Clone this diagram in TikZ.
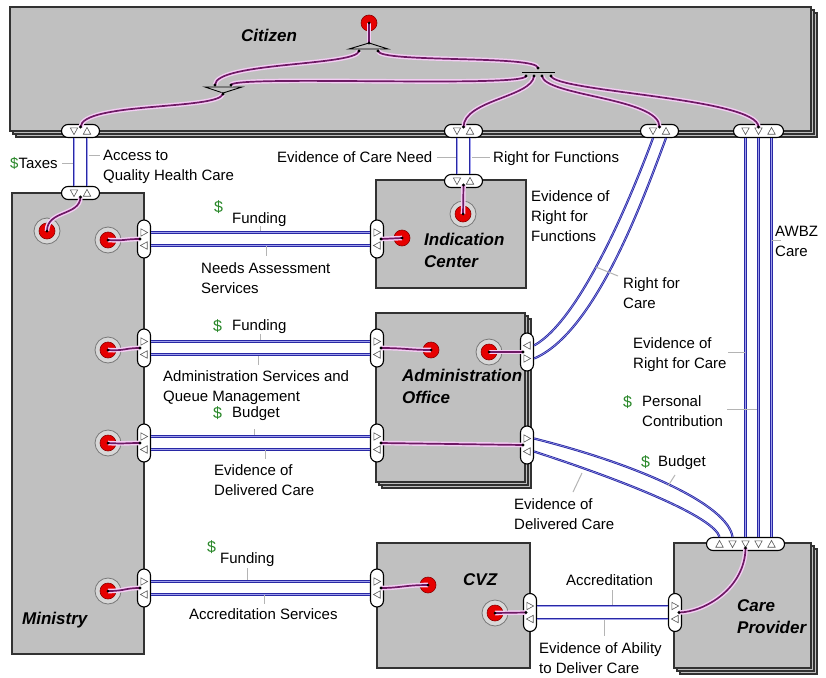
\documentclass[tikz,border=0pt]{standalone}
\usepackage{fontspec}
\setmainfont{Liberation Sans}
\definecolor{boxgray}{RGB}{192,192,192}
\definecolor{boxedge}{RGB}{50,50,50}
\definecolor{halo}{RGB}{245,205,245}
\definecolor{vline}{RGB}{110,25,100}
\definecolor{bline}{RGB}{40,40,165}
\definecolor{blight}{RGB}{160,160,235}
\definecolor{leader}{RGB}{180,180,180}
\definecolor{dollar}{RGB}{40,135,40}
\definecolor{dotred}{RGB}{230,0,0}
\definecolor{dotedge}{RGB}{140,0,0}
\definecolor{ringfill}{RGB}{215,215,215}
\definecolor{ringedge}{RGB}{120,120,120}
\tikzset{
 actor/.style={fill=boxgray, draw=boxedge, line width=1.6pt},
 hport/.style={shape=rectangle, draw=black, fill=white, rounded corners=6.5pt, minimum height=13pt, minimum width=38pt, line width=1.1pt, inner sep=0pt},
 vport/.style={shape=rectangle, draw=black, fill=white, rounded corners=6.5pt, minimum height=38pt, minimum width=13pt, line width=1.1pt, inner sep=0pt},
 reddot/.style={circle, fill=dotred, draw=dotedge, line width=0.6pt, minimum size=16pt, inner sep=0pt},
 ring/.style={circle, fill=ringfill, draw=ringedge, line width=0.8pt, minimum size=26pt, inner sep=0pt},
 pl/.style={draw=vline, line width=1.7pt, preaction={draw=halo, line width=4.6pt}},
 bl/.style={draw=bline, line width=2.2pt, postaction={draw=blight, line width=0.5pt}},
 ld/.style={draw=leader, line width=1pt},
 lbl/.style={anchor=north west, inner sep=0pt, align=left, font=\fontsize{15}{20}\selectfont},
 ttl/.style={anchor=north west, inner sep=0pt, align=left, font=\fontsize{17}{22}\selectfont\bfseries\itshape},
 usd/.style={anchor=base west, inner sep=0pt, text=dollar, font=\fontsize{16}{20}\selectfont},
 fork/.style={fill=boxgray, draw=black, line width=0.9pt},
 tri/.pic={\draw[draw=black!65, fill=white, line width=0.6pt] (3.6,0) -- (-3.2,3.7) -- (-3.2,-3.7) -- cycle;},
}
\newcommand\trD[2]{\pic[rotate=-90] at (#1,#2) {tri};}
\newcommand\trU[2]{\pic[rotate=90] at (#1,#2) {tri};}
\newcommand\trR[2]{\pic at (#1,#2) {tri};}
\newcommand\trL[2]{\pic[rotate=180] at (#1,#2) {tri};}
\begin{document}
\begin{tikzpicture}[x=1pt,y=-1pt]
\fill[white] (0,0) rectangle (826,677);
\useasboundingbox (0,0) rectangle (826,677);

% ---------- actors ----------
\draw[actor] (16,13) rectangle (817,137);
\draw[actor] (13,10) rectangle (814,134);
\draw[actor] (10,7) rectangle (811,131);
\draw[actor] (12,193) rectangle (144,654);
\draw[actor] (376,180) rectangle (526,288);
\draw[actor] (382,319) rectangle (531,488);
\draw[actor] (379,316) rectangle (528,485);
\draw[actor] (376,313) rectangle (525,482);
\draw[actor] (377,543) rectangle (530,668);
\draw[actor] (680,549) rectangle (817,674);
\draw[actor] (677,546) rectangle (814,671);
\draw[actor] (674,543) rectangle (811,668);

% ---------- titles ----------
\node[ttl] (tCit) at (241,28.6) {Citizen};
\node[ttl] (tInd) at (424,232.6) {Indication\\Center};
\node[ttl] (tAdm) at (402,368.6) {Administration\\Office};
\node[ttl] (tCvz) at (463,573.6) {CVZ};
\node[ttl] (tCar) at (737,599.6) {Care\\Provider};
\node[ttl] (tMin) at (22,611.6) {Ministry};

% ---------- ports ----------
\node[hport] (cA) at (80.5,131) {};
\node[hport] (cB) at (463.5,131) {};
\node[hport] (cC) at (659.5,131) {};
\node[hport, minimum width=50pt] (cD) at (758.5,131) {};
\node[hport] (mT) at (80.5,193) {};
\node[vport] (m1) at (144,239) {};
\node[vport] (m2) at (144,348) {};
\node[vport] (m3) at (144,443) {};
\node[vport] (m4) at (144,588) {};
\node[hport] (iT) at (463.5,181) {};
\node[vport] (iL) at (377,239) {};
\node[vport] (aL1) at (377,348) {};
\node[vport] (aL2) at (377,443) {};
\node[vport] (aR1) at (527,352) {};
\node[vport] (aR2) at (527,445) {};
\node[vport] (vL) at (377,588) {};
\node[vport] (vR) at (530,612.5) {};
\node[vport] (pL) at (675,612.5) {};
\node[hport, minimum width=78pt] (pT) at (745.5,544) {};

% port arrow glyphs
\trD{74}{131}\trU{87}{131}
\trD{74}{193}\trU{87}{193}
\trD{457}{131}\trU{470}{131}
\trD{457}{181}\trU{470}{181}
\trD{653}{131}\trU{666}{131}
\trD{745.5}{131}\trD{758.5}{131}\trU{771.5}{131}
\trU{719.5}{544}\trD{732.5}{544}\trD{745.5}{544}\trD{758.5}{544}\trU{771.5}{544}
\trR{144}{232.5}\trL{144}{245.5}
\trR{377}{232.5}\trL{377}{245.5}
\trR{144}{341.5}\trL{144}{354.5}
\trR{377}{341.5}\trL{377}{354.5}
\trR{144}{436.5}\trL{144}{449.5}
\trR{377}{436.5}\trL{377}{449.5}
\trR{144}{581.5}\trL{144}{594.5}
\trR{377}{581.5}\trL{377}{594.5}
\trL{527}{345.5}\trR{527}{358.5}
\trR{527}{438.5}\trL{527}{451.5}
\trR{530}{606}\trL{530}{619}
\trR{675}{606}\trL{675}{619}

% ---------- value interfaces (red dots) ----------
\node[reddot] (citR) at (369,23) {};
\node[ring] (mR0) at (47,231) {};  \node[reddot] (mD0) at (47,231) {};
\node[ring] (mR1) at (108,240) {}; \node[reddot] (mD1) at (108,240) {};
\node[ring] (mR2) at (108,350) {}; \node[reddot] (mD2) at (108,350) {};
\node[ring] (mR3) at (108,443) {}; \node[reddot] (mD3) at (108,443) {};
\node[ring] (mR4) at (108,591) {}; \node[reddot] (mD4) at (108,591) {};
\node[ring] (iR) at (463,214) {};  \node[reddot] (iD) at (463,214) {};
\node[reddot] (iS) at (402,238) {};
\node[reddot] (aS) at (431,350) {};
\node[ring] (aR) at (489,352) {};  \node[reddot] (aD) at (489,352) {};
\node[reddot] (vS) at (428,585) {};
\node[ring] (vRg) at (495,613) {}; \node[reddot] (vD) at (495,613) {};

% ---------- forks ----------
\draw[fork] (349,49) -- (369,43) -- (388,49) -- cycle;
\draw[fork] (205,87) -- (223,93) -- (242,87) -- cycle;
\draw[black, line width=1pt] (522,72) -- (555,72);

% ---------- named dot coordinates ----------
\coordinate (fT0) at (369,43);
\coordinate (fT1) at (359,51);
\coordinate (fT2) at (378,51);
\coordinate (fL0) at (223,94);
\coordinate (fL1) at (215,85);
\coordinate (fL2) at (231,85);
\coordinate (fR0) at (538,68);
\coordinate (fR1) at (526,76);
\coordinate (fR2) at (534,76);
\coordinate (fR3) at (542,76);
\coordinate (fR4) at (551,76);
\coordinate (cAd) at (80.5,127);
\coordinate (cBd) at (463.5,127);
\coordinate (cCd) at (659.5,127);
\coordinate (cDd) at (758.5,127);
\coordinate (mTd) at (80.5,197);
\coordinate (iTd) at (463.5,185);
\coordinate (m1d) at (140,239);
\coordinate (m2d) at (140,348);
\coordinate (m3d) at (140,443);
\coordinate (m4d) at (140,588);
\coordinate (iLd) at (381,239);
\coordinate (aL1d) at (381,348);
\coordinate (aL2d) at (381,443);
\coordinate (aR1d) at (523,352);
\coordinate (aR2d) at (523,445);
\coordinate (vLd) at (381,588);
\coordinate (vRd) at (526,612.5);
\coordinate (pLd) at (679,612.5);
\coordinate (pTd) at (745.5,548);

% ---------- value exchanges (blue) ----------
\draw[bl] ([xshift=-6.5pt]cA.south) -- ([xshift=-6.5pt]mT.north);
\draw[bl] ([xshift=6.5pt]cA.south) -- ([xshift=6.5pt]mT.north);
\draw[bl] ([xshift=-6.5pt]cB.south) -- ([xshift=-6.5pt]iT.north);
\draw[bl] ([xshift=6.5pt]cB.south) -- ([xshift=6.5pt]iT.north);
\draw[bl] ([xshift=-13pt]cD.south) -- (pT.north);
\draw[bl] (cD.south) -- ([xshift=13pt]pT.north);
\draw[bl] ([xshift=13pt]cD.south) -- ([xshift=26pt]pT.north);
\draw[bl] ([yshift=6.5pt]m1.east) -- ([yshift=6.5pt]iL.west);
\draw[bl] ([yshift=-6.5pt]m1.east) -- ([yshift=-6.5pt]iL.west);
\draw[bl] ([yshift=6.5pt]m2.east) -- ([yshift=6.5pt]aL1.west);
\draw[bl] ([yshift=-6.5pt]m2.east) -- ([yshift=-6.5pt]aL1.west);
\draw[bl] ([yshift=6.5pt]m3.east) -- ([yshift=6.5pt]aL2.west);
\draw[bl] ([yshift=-6.5pt]m3.east) -- ([yshift=-6.5pt]aL2.west);
\draw[bl] ([yshift=6.5pt]m4.east) -- ([yshift=6.5pt]vL.west);
\draw[bl] ([yshift=-6.5pt]m4.east) -- ([yshift=-6.5pt]vL.west);
\draw[bl] ([yshift=6.5pt]vR.east) -- ([yshift=6.5pt]pL.west);
\draw[bl] ([yshift=-6.5pt]vR.east) -- ([yshift=-6.5pt]pL.west);
\draw[bl] ([xshift=-6.5pt]cC.south) .. controls (630,200) and (580,320) .. ([yshift=6.5pt]aR1.east);
\draw[bl] ([xshift=6.5pt]cC.south) .. controls (643,200) and (595,333) .. ([yshift=-6.5pt]aR1.east);
\draw[bl] ([yshift=6.5pt]aR2.east) .. controls (640,465) and (728,505) .. ([xshift=-13pt]pT.north);
\draw[bl] ([yshift=-6.5pt]aR2.east) .. controls (628,482) and (714,517) .. ([xshift=-26pt]pT.north);

% ---------- dependency paths (purple) ----------
\draw[pl] (citR.center) -- (fT0);
\draw[pl] (fT1) .. controls (357,66) and (215,62) .. (fL1);
\draw[pl] (fT2) .. controls (380,63) and (538,55) .. (fR0);
\draw[pl] (fL2) .. controls (232,75) and (526,88) .. (fR1);
\draw[pl] (fL0) .. controls (218,110) and (82,102) .. (cAd);
\draw[pl] (fR2) .. controls (532,97) and (464,100) .. (cBd);
\draw[pl] (fR3) .. controls (545,96) and (660,98) .. (cCd);
\draw[pl] (fR4) .. controls (556,92) and (758,98) .. (cDd);
\draw[pl] (mTd) .. controls (80,216) and (47,210) .. (mD0.center);
\draw[pl] (mD1.center) .. controls (126,241) and (124,239) .. (m1d);
\draw[pl] (mD2.center) .. controls (126,351) and (124,348) .. (m2d);
\draw[pl] (mD3.center) .. controls (126,444) and (124,443) .. (m3d);
\draw[pl] (mD4.center) .. controls (126,591) and (124,588) .. (m4d);
\draw[pl] (iTd) -- (iD.center);
\draw[pl] (iLd) -- (iS.center);
\draw[pl] (aL1d) .. controls (405,348) and (410,350) .. (aS.center);
\draw[pl] (aD.center) -- (aR1d);
\draw[pl] (aL2d) -- (aR2d);
\draw[pl] (vLd) .. controls (400,588) and (405,585) .. (vS.center);
\draw[pl] (vD.center) -- (vRd);
\draw[pl] (pTd) .. controls (745,588) and (705,612) .. (pLd);

% black connection dots
\foreach \n in {fT0,fT1,fT2,fL0,fL1,fL2,fR0,fR1,fR2,fR3,fR4,cAd,cBd,cCd,cDd,mTd,iTd,m1d,m2d,m3d,m4d,iLd,aL1d,aL2d,aR1d,aR2d,vLd,vRd,pLd,pTd}
  \fill[black] (\n) circle[radius=1.7pt];
\foreach \n in {citR,mD0,mD1,mD2,mD3,mD4,iD,iS,aS,aD,vS,vD}
  \fill[black] (\n.center) circle[radius=1.5pt];

% ---------- labels ----------
\node[lbl] (lTax) at (10,154) {\strut\textcolor{dollar}{\$}Taxes};
\node[lbl] (lAcc) at (103,146) {\strut Access to\\Quality Health Care};
\node[lbl] (lECN) at (277,148) {\strut Evidence of Care Need};
\node[lbl] (lRFF) at (493,148) {\strut Right for Functions};
\node[lbl] (lERF) at (531,187) {\strut Evidence of\\Right for\\Functions};
\node[usd] (d1) at (214,212) {\$};
\node[lbl] (lF1) at (232,209) {\strut Funding};
\node[lbl] (lNAS) at (201,259) {\strut Needs Assessment\\Services};
\node[usd] (d2) at (213,331) {\$};
\node[lbl] (lF2) at (232,316) {\strut Funding};
\node[lbl] (lASQ) at (163,367) {\strut Administration Services and\\Queue Management};
\node[usd] (d3) at (213,418) {\$};
\node[lbl] (lB1) at (232,403) {\strut Budget};
\node[lbl] (lEDC1) at (214,461) {\strut Evidence of\\Delivered Care};
\node[usd] (d4) at (207,552) {\$};
\node[lbl] (lF4) at (220,549) {\strut Funding};
\node[lbl] (lAS) at (189,605) {\strut Accreditation Services};
\node[lbl] (lAcr) at (566,571) {\strut Accreditation};
\node[lbl] (lEAD) at (539,639) {\strut Evidence of Ability\\to Deliver Care};
\node[lbl] (lRFC) at (623,274) {\strut Right for\\Care};
\node[lbl] (lAWBZ) at (775,222) {\strut AWBZ\\Care};
\node[lbl] (lERC) at (633,334) {\strut Evidence of\\Right for Care};
\node[usd] (d5) at (623,407) {\$};
\node[lbl] (lPC) at (642,392) {\strut Personal\\Contribution};
\node[usd] (d6) at (641,467) {\$};
\node[lbl] (lB2) at (658,452) {\strut Budget};
\node[lbl] (lEDC2) at (514,495) {\strut Evidence of\\Delivered Care};

% leaders
\draw[ld] (62,163) -- (73,163);
\draw[ld] (89,155) -- (100,155);
\draw[ld] (437,157) -- (456,157);
\draw[ld] (472,157) -- (490,157);
\draw[ld] (260,226) -- (260,231);
\draw[ld] (266,246) -- (266,256);
\draw[ld] (260,334) -- (260,340);
\draw[ld] (258,356) -- (258,365);
\draw[ld] (254,429) -- (254,435);
\draw[ld] (265,450) -- (265,459);
\draw[ld] (247,568) -- (247,580);
\draw[ld] (264,595) -- (264,604);
\draw[ld] (612,590) -- (612,605);
\draw[ld] (604,620) -- (604,636);
\draw[ld] (618,276) -- (596,267);
\draw[ld] (772,240) -- (781,240);
\draw[ld] (728,352) -- (745,352);
\draw[ld] (727,409) -- (757,409);
\draw[ld] (675,475) -- (668,486);
\draw[ld] (573,492) -- (582,473);
\end{tikzpicture}
\end{document}
